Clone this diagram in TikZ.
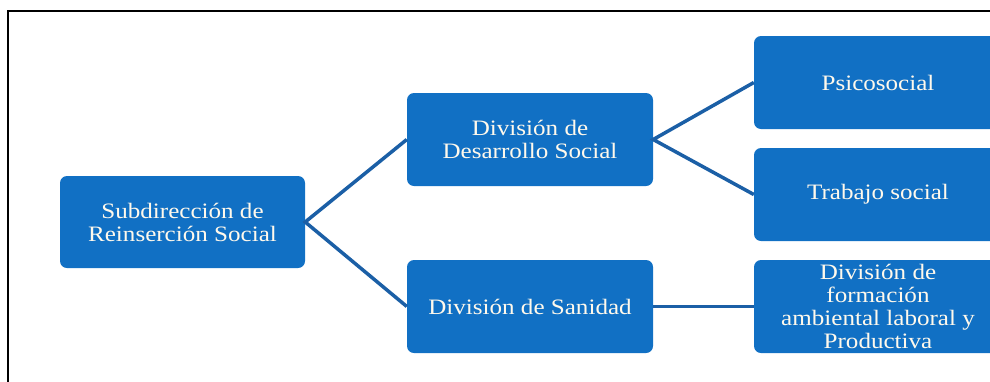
\documentclass[tikz,border=0pt]{standalone}
\usepackage{fontspec}
\setmainfont{Liberation Serif}[FakeStretch=1.14]
\definecolor{boxblue}{HTML}{1170C4}
\definecolor{lineblue}{HTML}{1B5FA6}
\definecolor{txt}{HTML}{FFF9EC}
\begin{document}
\begin{tikzpicture}[x=1pt,y=-1pt,
  orgbox/.style={draw=none,fill=boxblue,rounded corners=7pt,minimum height=93pt,
    text=txt,align=center,inner sep=0pt,font=\fontsize{22}{23}\selectfont},
  link/.style={draw=lineblue,line width=3.5pt}]
\useasboundingbox (0,0) rectangle (990,381);
\clip (0,0) rectangle (990,381);
\draw[line width=1.5pt,black] (8,400) -- (8,11) -- (1000,11);
\node[orgbox,minimum width=245pt,minimum height=92pt] (root) at (182.5,222) {Subdirección de\\Reinserción Social};
\node[orgbox,minimum width=246pt] (des) at (530,139.5) {División de\\Desarrollo Social};
\node[orgbox,minimum width=246pt] (san) at (530,306.5) {División de Sanidad};
\node[orgbox,minimum width=248pt] (psi) at (878,82.5) {Psicosocial};
\node[orgbox,minimum width=248pt] (tra) at (878,194.5) {Trabajo social};
\node[orgbox,minimum width=248pt] (for) at (878,306.5) {División de\\formación\\ambiental laboral y\\Productiva};
\draw[link] (des.west) -- (root.east) -- (san.west);
\draw[link] (psi.west) -- (des.east) -- (tra.west);
\draw[link] (san.east) -- (for.west);
\end{tikzpicture}
\end{document}
